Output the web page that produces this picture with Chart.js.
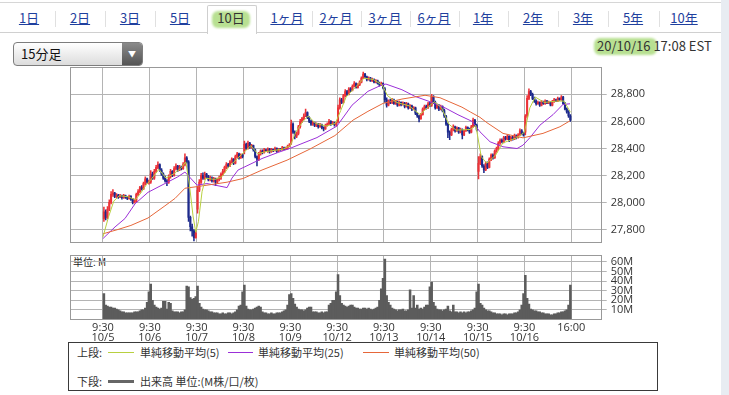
<!DOCTYPE html>
<html><head><meta charset="utf-8">
<script src="https://cdn.jsdelivr.net/npm/chart.js@4.4.1/dist/chart.umd.min.js"></script>
<style>
body{margin:0;background:#fff;font-family:"Noto Sans CJK JP","Noto Sans",sans-serif;}
#wrap{position:relative;width:729px;height:395px;overflow:hidden;background:#fff;}
.abs{position:absolute;}
#topline{left:0;top:2px;width:721px;height:1px;background:#d6d6d6;}
#tabline{left:0;top:32px;width:721px;height:1px;background:#d0d0d0;}
#seltab{left:207px;top:5px;width:48px;height:28px;border:1px solid #cfcfcf;border-bottom:none;background:#fff;border-radius:2px 2px 0 0;}
.tab{position:absolute;top:9px;font-size:13px;color:#1f3f9e;text-decoration:underline;transform:translateX(-50%);white-space:nowrap;line-height:18px;}
.tab.sel{color:#333;text-decoration:none;}
.sep{position:absolute;top:11px;width:1px;height:16px;background:#e0e0e0;}
.hl{position:absolute;background:rgba(160,214,110,0.75);border-radius:6px;filter:blur(1px);}
#dd{left:13px;top:42px;width:128px;height:22px;border:1px solid #7d7d7d;border-radius:4px;background:linear-gradient(#ffffff,#dcdcdc);overflow:hidden;}
#ddtxt{left:7px;top:2px;font-size:13px;color:#111;line-height:18px;}
#ddbtn{right:0;top:0;width:20px;height:22px;background:linear-gradient(#8a8a8a,#555);color:#fff;font-size:8px;text-align:center;line-height:22px;}
#date{left:597px;top:38px;font-size:13px;color:#333;white-space:nowrap;line-height:16px;}
#rstrip{left:721px;top:0;width:8px;height:395px;background:#e8ecf2;}
#unit{left:73px;top:256px;font-size:10px;color:#222;line-height:12px;}
#legend{left:68px;top:342px;width:588px;height:47px;border:1px solid #3a3a3a;background:#fff;}
.lg{position:absolute;font-size:11px;color:#333;white-space:nowrap;line-height:14px;}
.sw{position:absolute;height:1px;}
</style></head>
<body><div id="wrap">
<div class="abs" id="rstrip"></div>
<div class="abs" id="topline"></div>
<div class="abs" id="tabline"></div>
<div class="abs" id="seltab"></div>
<div class="hl" style="left:212px;top:11px;width:38px;height:17px;"></div>
<div id="tabs"></div>
<div class="abs" id="dd"><div class="abs" id="ddtxt">15分足</div><div class="abs" id="ddbtn">▼</div></div>
<div class="hl" style="left:594px;top:38px;width:63px;height:17px;"></div>
<div class="abs" id="date">20/10/16 17:08 EST</div>
<div class="abs" id="unit">単位: M</div>
<div class="abs" style="left:0;top:60px;width:729px;height:190px;"><canvas id="main"></canvas></div>
<div class="abs" style="left:0;top:250px;width:729px;height:100px;"><canvas id="vol"></canvas></div>
<div class="abs" id="legend">
  <div class="lg" style="left:8px;top:2px;">上段:</div>
  <div class="sw" style="left:39px;top:9px;width:26px;background:#b8d040;"></div>
  <div class="lg" style="left:71px;top:2px;">単純移動平均(5)</div>
  <div class="sw" style="left:159px;top:9px;width:25px;background:#9b2fd8;"></div>
  <div class="lg" style="left:189px;top:2px;">単純移動平均(25)</div>
  <div class="sw" style="left:294px;top:9px;width:26px;background:#e6673a;"></div>
  <div class="lg" style="left:325px;top:2px;">単純移動平均(50)</div>
  <div class="lg" style="left:8px;top:31px;">下段:</div>
  <div class="sw" style="left:39px;top:37px;width:26px;height:3px;background:#666;"></div>
  <div class="lg" style="left:71px;top:31px;">出来高 単位:(M株/口/枚)</div>
</div>
</div>
<script>
// ---- labels ----
const tabLabels = ['1日','2日','3日','5日','10日','1ヶ月','2ヶ月','3ヶ月','6ヶ月','1年','2年','3年','5年','10年'];
const days = ['10/5','10/6','10/7','10/8','10/9','10/12','10/13','10/14','10/15','10/16'];
const openTime = '9:30';
const closeTime = '16:00';
const dayTicks = [0,26,52,78,104,130,156,182,208,234,260];
const priceTicks = [27800,28000,28200,28400,28600,28800];
const volumeTicks = [10,20,30,40,50,60];

// ---- 15-minute candles (10 sessions x 26 bars) ----
const opens = [
27880,27930,27890,27950,28000,28060,28070,28045,28055,28040,28050,28035,28050,28040,28030,28045,28025,28000,28010,28060,28080,28110,28100,28140,28175,28150,
28150,28210,28180,28230,28260,28280,28240,28210,28180,28160,28150,28190,28230,28200,28250,28270,28240,28260,28250,28280,28330,28300,27890,27820,27790,27740,
27950,28090,28150,28200,28180,28210,28190,28170,28180,28160,28175,28150,28170,28180,28210,28230,28260,28280,28270,28300,28320,28290,28340,28360,28330,28350,
28380,28430,28400,28440,28410,28420,28390,28340,28320,28360,28380,28370,28390,28380,28395,28375,28390,28385,28400,28380,28395,28390,28405,28395,28400,28415,
28440,28580,28520,28490,28510,28560,28600,28620,28640,28665,28630,28600,28580,28590,28570,28580,28560,28575,28555,28545,28570,28580,28600,28580,28590,28575,
28600,28700,28760,28740,28790,28820,28800,28840,28830,28860,28880,28850,28870,28890,28920,28950,28930,28910,28920,28900,28910,28890,28900,28880,28870,28880,
28840,28760,28720,28750,28740,28760,28730,28745,28720,28740,28725,28735,28710,28730,28700,28715,28690,28700,28660,28640,28620,28650,28690,28710,28700,28730,
28720,28780,28740,28700,28720,28690,28710,28680,28640,28580,28520,28500,28540,28560,28530,28550,28520,28540,28500,28530,28555,28540,28520,28560,28610,28570,
28230,28290,28340,28270,28240,28290,28260,28320,28350,28330,28380,28400,28440,28460,28450,28480,28470,28490,28460,28480,28470,28495,28480,28500,28530,28510,
28520,28640,28770,28820,28800,28770,28750,28730,28740,28720,28745,28730,28750,28735,28740,28720,28745,28760,28750,28770,28760,28780,28730,28690,28670,28640];
const highs = [
27965,27945,27970,28020,28080,28095,28075,28065,28060,28060,28055,28060,28055,28045,28055,28050,28030,28025,28070,28095,28120,28125,28150,28190,28180,28165,
28235,28225,28245,28275,28300,28285,28250,28220,28195,28170,28205,28245,28235,28265,28285,28275,28275,28270,28295,28360,28340,28310,27900,27840,27800,27790,
28120,28170,28215,28220,28225,28215,28200,28195,28190,28185,28180,28180,28195,28220,28245,28270,28295,28290,28310,28330,28325,28350,28370,28365,28360,28360,
28455,28440,28455,28445,28430,28425,28395,28345,28370,28390,28390,28400,28395,28405,28400,28400,28395,28410,28405,28400,28400,28415,28410,28410,28425,28435,
28610,28590,28530,28520,28570,28615,28630,28655,28690,28670,28635,28610,28600,28595,28590,28585,28585,28580,28560,28580,28590,28615,28605,28600,28595,28595,
28720,28775,28770,28800,28835,28830,28850,28850,28870,28895,28885,28880,28900,28930,28965,28955,28935,28930,28925,28920,28915,28910,28905,28890,28890,28885,
28850,28775,28760,28765,28770,28765,28755,28750,28750,28745,28745,28740,28740,28735,28725,28720,28710,28705,28665,28645,28660,28700,28720,28720,28740,28740,
28800,28790,28750,28730,28725,28720,28715,28690,28645,28590,28530,28550,28575,28565,28560,28555,28550,28545,28535,28565,28560,28550,28570,28625,28615,28580,
28340,28360,28345,28280,28300,28300,28330,28360,28360,28390,28410,28450,28470,28470,28490,28490,28500,28495,28490,28490,28505,28500,28510,28545,28540,28520,
28650,28790,28840,28830,28810,28780,28760,28750,28745,28755,28750,28760,28755,28750,28745,28755,28770,28765,28780,28775,28790,28785,28740,28700,28680,28650];
const lows = [
27860,27870,27880,27940,27990,28045,28035,28035,28030,28035,28025,28030,28030,28020,28025,28015,27990,27995,28005,28050,28070,28090,28095,28130,28140,28135,
28140,28170,28170,28220,28250,28230,28200,28170,28150,28125,28140,28180,28190,28195,28240,28230,28235,28240,28245,28270,28290,27860,27790,27750,27715,27735,
27920,28080,28140,28170,28170,28180,28160,28160,28150,28150,28125,28140,28160,28170,28200,28220,28250,28260,28265,28290,28280,28285,28330,28320,28325,28330,
28360,28390,28395,28400,28400,28380,28330,28270,28310,28350,28360,28365,28375,28370,28365,28370,28375,28380,28370,28375,28385,28385,28390,28390,28395,28410,
28430,28510,28470,28480,28500,28550,28590,28610,28635,28620,28590,28570,28570,28560,28560,28550,28555,28545,28530,28540,28565,28575,28570,28575,28565,28565,
28590,28690,28730,28735,28780,28790,28795,28820,28825,28855,28845,28845,28865,28885,28915,28920,28900,28905,28895,28895,28885,28885,28875,28860,28865,28840,
28740,28705,28715,28730,28730,28725,28725,28710,28715,28715,28720,28700,28705,28690,28695,28680,28685,28650,28630,28595,28615,28645,28685,28690,28695,28710,
28710,28730,28690,28695,28680,28685,28670,28630,28570,28480,28465,28495,28530,28520,28525,28510,28515,28470,28495,28525,28530,28510,28515,28555,28560,28530,
28175,28280,28260,28220,28235,28250,28255,28310,28320,28325,28370,28390,28430,28440,28440,28460,28465,28450,28455,28460,28465,28470,28475,28495,28500,28490,
28500,28630,28760,28790,28760,28740,28720,28725,28710,28715,28725,28725,28730,28730,28715,28715,28740,28745,28745,28755,28755,28725,28685,28660,28630,28600];
const closes = [
27930,27890,27950,28000,28060,28070,28045,28055,28040,28050,28035,28050,28040,28030,28045,28025,28000,28010,28060,28080,28110,28100,28140,28175,28150,28150,
28210,28180,28230,28260,28280,28240,28210,28180,28160,28150,28190,28230,28200,28250,28270,28240,28260,28250,28280,28330,28300,27890,27820,27790,27740,27772,
28090,28150,28200,28180,28210,28190,28170,28180,28160,28175,28150,28170,28180,28210,28230,28260,28280,28270,28300,28320,28290,28340,28360,28330,28350,28340,
28430,28400,28440,28410,28420,28390,28340,28320,28360,28380,28370,28390,28380,28395,28375,28390,28385,28400,28380,28395,28390,28405,28395,28400,28415,28425,
28580,28520,28490,28510,28560,28600,28620,28640,28665,28630,28600,28580,28590,28570,28580,28560,28575,28555,28545,28570,28580,28600,28580,28590,28575,28587,
28700,28760,28740,28790,28820,28800,28840,28830,28860,28880,28850,28870,28890,28920,28950,28930,28910,28920,28900,28910,28890,28900,28880,28870,28880,28850,
28760,28720,28750,28740,28760,28730,28745,28720,28740,28725,28735,28710,28730,28700,28715,28690,28700,28660,28640,28620,28650,28690,28710,28700,28730,28720,
28780,28740,28700,28720,28690,28710,28680,28640,28580,28520,28500,28540,28560,28530,28550,28520,28540,28500,28530,28555,28540,28520,28560,28610,28570,28540,
28290,28340,28270,28240,28290,28260,28320,28350,28330,28380,28400,28440,28460,28450,28480,28470,28490,28460,28480,28470,28495,28480,28500,28530,28510,28500,
28640,28770,28820,28800,28770,28750,28730,28740,28720,28745,28730,28750,28735,28740,28720,28745,28760,28750,28770,28760,28780,28730,28690,28670,28640,28610];
// volume, millions
const volumes = [
27,15,14,13,13,12,12,11,10,9,8,8,7,7,7,7,7,8,8,8,9,10,10,12,18,29,
37,20,15,13,12,11,12,19,19,11,18,17,9,8,8,8,7,8,8,10,35,34,23,21,22,24,
35,17,13,11,10,10,9,8,8,7,7,7,6,6,7,6,6,7,7,6,7,8,10,14,15,29,
36,14,11,10,10,11,12,13,14,13,8,7,7,6,6,7,6,6,7,7,7,8,9,10,15,26,
27,22,16,13,11,10,10,9,10,12,13,13,8,8,8,7,7,8,7,8,8,15,17,20,20,29,
47,25,17,15,14,13,14,15,15,13,12,12,11,11,12,12,11,12,11,10,11,12,13,20,32,43,
63,25,18,15,12,11,10,9,10,10,11,9,9,10,31,12,25,12,15,11,12,11,13,15,15,34,
39,18,14,11,10,10,9,10,11,14,9,8,15,8,8,7,8,7,8,7,8,8,9,10,12,29,
37,17,15,12,10,9,9,8,7,7,6,6,6,5,6,6,5,6,6,6,7,7,8,10,15,27,
46,22,16,11,10,9,9,8,8,7,7,6,6,6,5,5,6,6,7,7,8,8,9,10,15,36];

// ---- moving averages (position in bars, value) ----
const sma5Pos = [0,3,6,9,14,18,21,24,27,31,35,39,43,46,48,50,51.5,53,55,57,62,66,70,75,79,82,86,90,100,104,107,111,114,118,124,129,132,135,140,145,150,155,158,163,170,176,180,184,188,192,196,204,207,210,213,218,222,230,234,237,240,245,252,256,259.5];
const sma5Val = [27745,27890,28010,28050,28042,28020,28070,28130,28175,28245,28180,28210,28250,28300,28130,27900,27780,27860,28080,28180,28170,28190,28265,28330,28380,28420,28360,28375,28395,28420,28520,28600,28640,28585,28565,28585,28680,28780,28850,28920,28910,28870,28790,28740,28715,28650,28700,28745,28700,28580,28535,28540,28570,28340,28290,28350,28440,28480,28520,28700,28780,28740,28750,28750,28668];
const sma25Pos = [0,6.7,12.2,17.8,25,34.4,41.6,45.5,52.2,57.7,68.9,71.6,75,78.8,88.3,97.2,103.8,109.4,118.8,129.9,138.3,147.1,154.9,157.1,166,173.2,182.7,189.9,197.1,204.9,209.3,214.9,222.1,229.9,233.2,237.1,242.6,249.9,255.4,259.3];
const sma25Val = [27733,27819,27881,27990,28075,28140,28190,28225,28128,28140,28110,28180,28240,28264,28325,28370,28400,28430,28480,28565,28720,28822,28870,28876,28834,28785,28740,28700,28649,28600,28523,28449,28412,28399,28424,28480,28572,28650,28725,28730];
const sma50Pos = [0,8.3,15.5,25,34.4,40,45.5,52.2,68.9,77.7,88.3,102.2,114.9,128.8,138.8,147.1,155.5,166,178.8,187.1,199.3,203.9,209.3,213.2,222.1,233.2,244.3,253.7,259.3];
const sma50Val = [27768,27800,27830,27885,27975,28030,28105,28117,28150,28177,28240,28313,28395,28495,28609,28674,28733,28765,28793,28775,28705,28670,28630,28590,28511,28478,28511,28560,28604];

// ---- tabs ----
const tabX = [29,80,130,180,231,287,336,385,434,483,533,583,633,684];
const tabsEl = document.getElementById('tabs');
tabLabels.forEach((t,i)=>{
  const d=document.createElement('div');
  d.className='tab'+(t==='10日'?' sel':'');
  d.style.left=tabX[i]+'px'; d.textContent=t; tabsEl.appendChild(d);
  if(i<tabLabels.length-1 && i!==3 && i!==4){
    const s=document.createElement('div'); s.className='sep';
    s.style.left=Math.round((tabX[i]+tabX[i+1])/2)+'px'; tabsEl.appendChild(s);
  }
});

// ---- charts ----
const RED='#ec3338', BLUE='#1d2a8c', GRID='#b4b4b4';
const XMIN=-18.32, XMAX=276.9;
const fmt = v => String(v).replace(/\B(?=(\d{3})+(?!\d))/g, ',');
const candleColors = closes.map((c,i)=> c>=opens[i] ? RED : BLUE);
const frame = {id:'frame', afterDatasetsDraw(chart){
  const a=chart.chartArea, c=chart.ctx; c.save(); c.strokeStyle='#999'; c.lineWidth=1;
  c.strokeRect(Math.round(a.left)+0.5, Math.round(a.top)+0.5, Math.round(a.right)-Math.round(a.left)-1, Math.round(a.bottom)-Math.round(a.top)-1);
  c.restore(); }};
const setTicks = arr => s => { s.ticks = arr.map(v=>({value:v})); };
const font = {family:'"Open Sans", "Liberation Sans", sans-serif', size:11};

const xBase = (showLabels) => ({
  type:'linear', min:XMIN, max:XMAX, offset:false, bounds:'ticks',
  afterBuildTicks: setTicks(dayTicks),
  grid:{color:GRID, drawTicks:false, lineWidth:1, offset:false},
  border:{display:false},
  ticks: showLabels ? {
    display:true, autoSkip:false, maxRotation:0, color:'#333', padding:3,
    font:Object.assign({lineHeight:0.91}, font),
    callback:(v,i)=> i<days.length ? [openTime, days[i]] : closeTime
  } : {display:false},
  afterFit: s => { s.height = showLabels ? 30.5 : 0; s.paddingLeft=0; s.paddingRight=0; }
});

new Chart(document.getElementById('main'), {
  data:{datasets:[
    {type:'bar', grouped:false, barThickness:0.9, data:closes.map((c,i)=>({x:i+0.5, y:[lows[i],highs[i]]})), backgroundColor:candleColors, order:3},
    {type:'bar', grouped:false, barThickness:1.4, minBarLength:1, data:closes.map((c,i)=>({x:i+0.5, y:[opens[i],c]})), backgroundColor:candleColors, order:2},
    {type:'line', data:sma50Pos.map((p,i)=>({x:p,y:sma50Val[i]})), borderColor:'#e6673a', borderWidth:1, pointRadius:0, tension:0, order:1},
    {type:'line', data:sma25Pos.map((p,i)=>({x:p,y:sma25Val[i]})), borderColor:'#9b2fd8', borderWidth:1, pointRadius:0, tension:0, order:1},
    {type:'line', data:sma5Pos.map((p,i)=>({x:p,y:sma5Val[i]})), borderColor:'#b8d040', borderWidth:1, pointRadius:0, tension:0, order:0}
  ]},
  options:{
    responsive:true, maintainAspectRatio:false, animation:false, events:[],
    layout:{padding:{left:70,right:0,top:7.3,bottom:7}},
    plugins:{legend:{display:false}, tooltip:{enabled:false}},
    scales:{
      x: xBase(false),
      y:{position:'right', min:27700, max:29000, afterBuildTicks:setTicks(priceTicks),
         grid:{color:GRID, tickLength:5}, border:{display:false},
         ticks:{color:'#333', font, padding:4, callback:v=>fmt(v)},
         afterFit:s=>{s.width=127.3; s.paddingTop=0; s.paddingBottom=0;}}
    }
  },
  plugins:[frame]
});

new Chart(document.getElementById('vol'), {
  data:{datasets:[
    {type:'bar', grouped:false, barThickness:1.9, data:volumes.map((v,i)=>({x:i+0.5,y:v})), backgroundColor:'#5c5c5c'}
  ]},
  options:{
    responsive:true, maintainAspectRatio:false, animation:false, events:[],
    layout:{padding:{left:70,right:0,top:5,bottom:0}},
    plugins:{legend:{display:false}, tooltip:{enabled:false}},
    scales:{
      x: xBase(true),
      y:{position:'right', min:0, max:67.3, afterBuildTicks:setTicks(volumeTicks),
         grid:{color:GRID, tickLength:5}, border:{display:false},
         ticks:{color:'#333', font:Object.assign({lineHeight:0.9}, font), padding:4, callback:v=>v+'M'},
         afterFit:s=>{s.width=127.3; s.paddingTop=0; s.paddingBottom=0;}}
    }
  },
  plugins:[frame]
});
</script>
</body></html>
